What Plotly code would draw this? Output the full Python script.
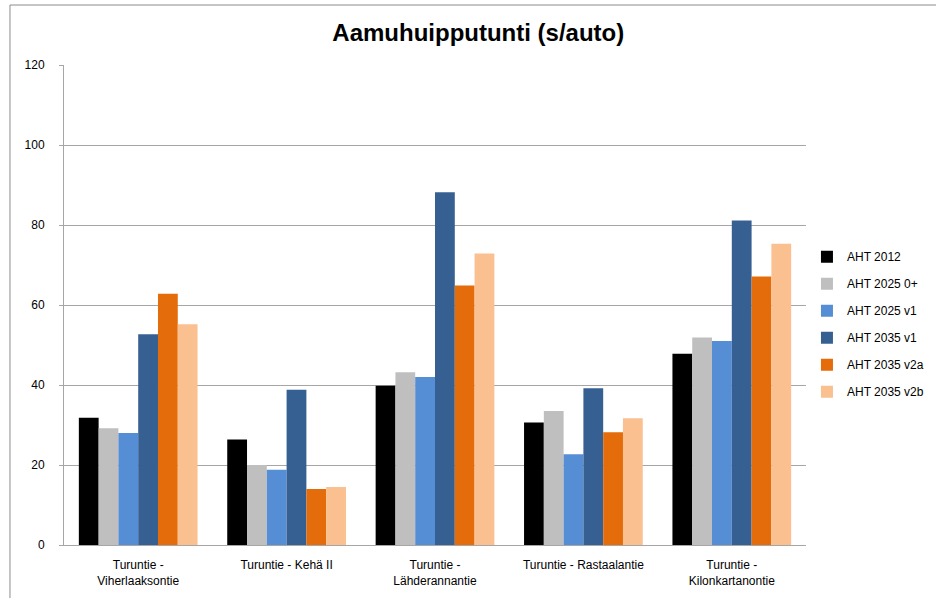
import plotly.graph_objects as go

categories = ["Turuntie -<br>Viherlaaksontie", "Turuntie - Kehä II", "Turuntie -<br>Lähderannantie",
              "Turuntie - Rastaalantie", "Turuntie -<br>Kilonkartanontie"]
series_names = ["AHT 2012", "AHT 2025 0+", "AHT 2025 v1", "AHT 2035 v1", "AHT 2035 v2a", "AHT 2035 v2b"]
aht_2012 = [31.8, 26.4, 39.8, 30.6, 47.8]
aht_2025_0 = [29.2, 20.0, 43.2, 33.5, 51.9]
aht_2025_v1 = [28.0, 18.8, 42.0, 22.7, 51.0]
aht_2035_v1 = [52.7, 38.8, 88.2, 39.2, 81.1]
aht_2035_v2a = [62.8, 14.0, 64.9, 28.2, 67.1]
aht_2035_v2b = [55.2, 14.5, 72.9, 31.7, 75.3]
colors = ["#000000", "#BFBFBF", "#558ED5", "#376092", "#E46C0A", "#FAC090"]
y_ticks = [0, 20, 40, 60, 80, 100, 120]

FONT = "Liberation Sans Narrow, Arial Narrow, Liberation Sans, Arial, sans-serif"

fig = go.Figure()
for i, (name, vals) in enumerate(zip(series_names,
                                     [aht_2012, aht_2025_0, aht_2025_v1, aht_2035_v1, aht_2035_v2a, aht_2035_v2b])):
    fig.add_trace(go.Bar(x=categories, y=vals, name=name, marker_color=colors[i],
                         marker_line_width=0, legendgroup=name))

fig.update_layout(
    width=936, height=598,
    margin=dict(l=64, r=130, t=65, b=53, autoexpand=False),
    paper_bgcolor="white", plot_bgcolor="white",
    barmode="group", bargap=0.2, bargroupgap=0,
    font=dict(family=FONT, size=12, color="#000000"),
    title=dict(text="<b>Aamuhuipputunti (s/auto)</b>", x=0.511, xanchor="center",
               y=0.945, yanchor="middle", yref="container",
               font=dict(family=FONT, size=24, color="#000000")),
    legend=dict(x=1.0013, y=0.46, xanchor="left", yanchor="middle", tracegroupgap=8,
                font=dict(family=FONT, size=12), itemwidth=30),
    yaxis=dict(range=[0, 120], tickvals=y_ticks, showgrid=True, gridcolor="#A6A6A6", gridwidth=1,
               showline=True, linecolor="#A6A6A6", linewidth=1, ticks="outside", ticklen=4,
               tickcolor="#A6A6A6", zeroline=False, tickfont=dict(size=12), ticklabelstandoff=12),
    xaxis=dict(showline=True, linecolor="#A6A6A6", linewidth=1, ticks="", tickfont=dict(size=12),
               ticklabelstandoff=9),
)
# chart frame
fig.add_shape(type="line", xref="paper", yref="paper", x0=-0.0728, x1=-0.0728, y0=-0.2, y1=1.125,
              line=dict(color="#8C8C8C", width=1))
fig.add_shape(type="line", xref="paper", yref="paper", x0=-0.0728, x1=1.3, y0=1.125, y1=1.125,
              line=dict(color="#8C8C8C", width=1))

fig.write_html("out.html", post_script="document.body.style.margin='0';",
               config={"displayModeBar": False})
